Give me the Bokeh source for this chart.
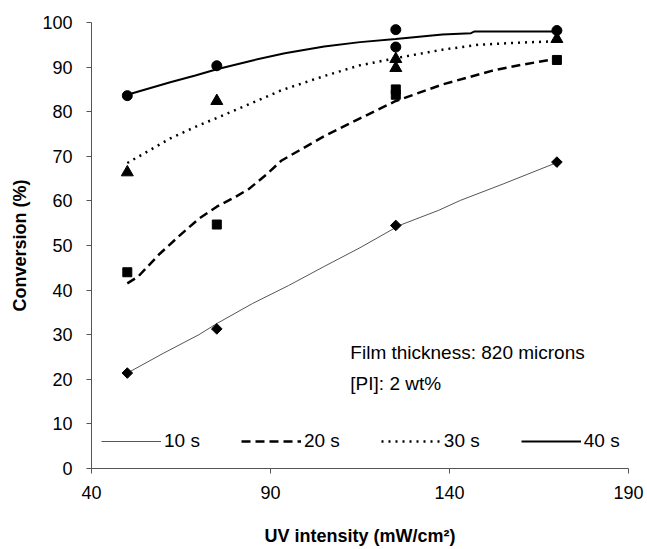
from bokeh.plotting import figure
from bokeh.models import Range1d, FixedTicker, Legend, LegendItem, Label
from bokeh.embed import file_html
from bokeh.resources import INLINE
import numpy as np

# ---- measured points ----
pt_x = [50, 75, 125, 125, 170]
pts_10s = [21.4, 31.3, 54.5, None, 68.7]
pts_20s = [44.0, 54.7, 85.0, 83.8, 91.6]
pts_30s = [66.4, 82.4, 91.8, 89.8, 96.3]
pts_40s = [83.6, 90.3, 98.4, 94.5, 98.2]

# ---- trend curves ----
fit10_x = [50, 60, 70, 75, 85, 95, 105, 115, 126, 137, 143, 155, 170]
fit10_y = [21.4, 25.8, 30.0, 32.5, 37.0, 41.0, 45.3, 49.5, 54.5, 57.9, 60.1, 63.8, 68.6]
fit20_x = [50, 53, 59, 65, 70, 75, 80, 84, 89, 93, 98, 105, 115, 125, 138, 152, 160, 170]
fit20_y = [41.5, 43.0, 48.1, 52.5, 56.0, 58.7, 60.8, 62.7, 66.0, 69.0, 71.3, 74.5, 78.5, 82.4, 86.1, 89.2, 90.5, 91.9]
fit30_x = [50, 62, 69, 75, 85, 93, 105, 115, 125, 138, 148, 160, 170]
fit30_y = [68.5, 74.0, 76.6, 78.6, 82.0, 84.8, 88.0, 90.4, 92.0, 93.9, 95.0, 95.5, 95.8]
fit40_x = [50, 62, 69, 75, 85, 94, 105, 115, 125, 138, 146, 147, 160, 170]
fit40_y = [83.8, 86.6, 88.1, 89.5, 91.5, 93.1, 94.6, 95.6, 96.3, 97.3, 97.6, 98.0, 98.0, 98.0]

x_ticks = [40, 90, 140, 190]
y_ticks = [0, 10, 20, 30, 40, 50, 60, 70, 80, 90, 100]
series_labels = ["10 s", "20 s", "30 s", "40 s"]

FONT = "Liberation Sans"

p = figure(width=647, height=549, output_backend="svg", toolbar_location=None,
           x_range=Range1d(40, 190), y_range=Range1d(0, 100),
           min_border_left=91, min_border_right=19, min_border_top=22, min_border_bottom=81)
p.outline_line_color = None
p.grid.visible = False

def clean(xs, ys):
    xx = [a for a, b in zip(xs, ys) if b is not None]
    yy = [b for b in ys if b is not None]
    return xx, yy

l10 = p.line(fit10_x, fit10_y, line_color="#555555", line_width=1)
l20 = p.line(fit20_x, fit20_y, line_color="black", line_width=2.5, line_dash="9 5")
l30 = p.line(fit30_x, fit30_y, line_color="black", line_width=2.5, line_dash="2 5")
l40 = p.line(fit40_x, fit40_y, line_color="black", line_width=2)

x, y = clean(pt_x, pts_10s)
p.scatter(x, y, marker="square", angle=np.pi / 4, size=7.5, color="black")
x, y = clean(pt_x, pts_20s)
p.scatter(x, y, marker="square", size=9, color="black")
x, y = clean(pt_x, pts_30s)
p.scatter(x, y, marker="triangle", size=12, color="black")
x, y = clean(pt_x, pts_40s)
p.scatter(x, y, marker="circle", size=10, color="black")

for ax in (p.xaxis, p.yaxis):
    ax.axis_line_color = "#555555"
    ax.major_tick_line_color = "#555555"
    ax.minor_tick_line_color = None
    ax.major_tick_out = 5
    ax.major_tick_in = 0
    ax.major_label_text_font = FONT
    ax.major_label_text_font_size = "18px"
    ax.major_label_text_color = "black"
    ax.axis_label_text_font = FONT
    ax.axis_label_text_font_size = "18px"
    ax.axis_label_text_font_style = "bold"
    ax.axis_label_text_color = "black"

p.xaxis.ticker = FixedTicker(ticks=x_ticks)
p.yaxis.ticker = FixedTicker(ticks=y_ticks)
p.xaxis.axis_label = "UV intensity (mW/cm²)"
p.yaxis.axis_label = "Conversion (%)"
p.xaxis.major_label_standoff = 12
p.yaxis.major_label_standoff = 14
p.xaxis.axis_label_standoff = 24
p.yaxis.axis_label_standoff = 9

legend = Legend(items=[LegendItem(label=series_labels[0], renderers=[l10]),
                       LegendItem(label=series_labels[1], renderers=[l20]),
                       LegendItem(label=series_labels[2], renderers=[l30]),
                       LegendItem(label=series_labels[3], renderers=[l40])],
                orientation="horizontal", location=(10, 16))
legend.border_line_color = None
legend.background_fill_alpha = 0
legend.padding = 0
legend.margin = 0
legend.spacing = 41
legend.glyph_width = 60
legend.glyph_height = 20
legend.label_height = 20
legend.label_standoff = 3
legend.label_text_font = FONT
legend.label_text_font_size = "19px"
legend.label_text_color = "black"
p.add_layout(legend)

p.add_layout(Label(x=112.3, y=26.1, text="Film thickness: 820 microns",
                   text_font=FONT, text_font_size="19px", text_color="black",
                   text_baseline="alphabetic"))
p.add_layout(Label(x=112.3, y=19.0, text="[PI]: 2 wt%",
                   text_font=FONT, text_font_size="19px", text_color="black",
                   text_baseline="alphabetic"))

open("out.html", "w").write(file_html(p, INLINE))
